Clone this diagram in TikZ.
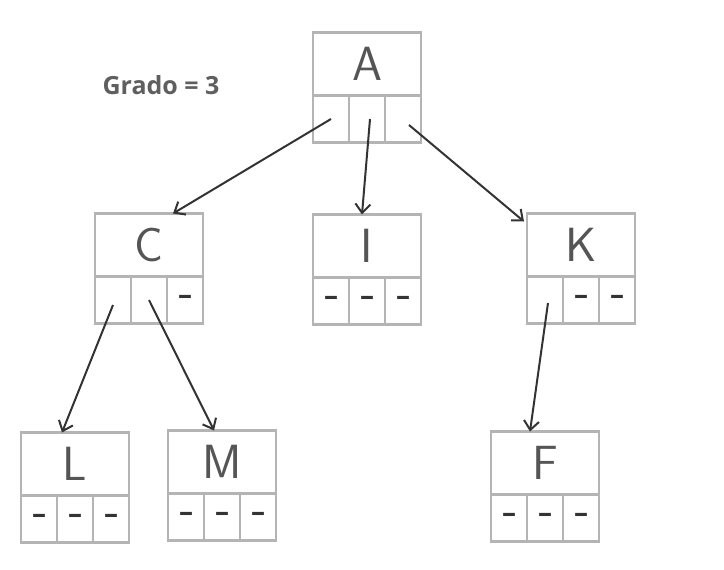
\documentclass[tikz,border=0pt]{standalone}
\usepackage{fontspec}
\newfontfamily\gradofont{Open Sans}
\usetikzlibrary{positioning,arrows.meta}
\definecolor{cajagris}{HTML}{B4B4B4}
\definecolor{letragris}{HTML}{555555}
\definecolor{flechagris}{HTML}{333333}
\definecolor{gradogris}{HTML}{5F5F5F}
\newcommand{\guion}{\textendash}
\tikzset{
  cajon/.style={draw=cajagris, line width=2.2pt, outer sep=0pt, inner sep=0pt,
    minimum width=108pt, minimum height=63pt, text=letragris,
    font=\sffamily\fontsize{48}{48}\selectfont},
  celda/.style={draw=cajagris, line width=2.2pt, outer sep=0pt, inner sep=0pt,
    minimum width=36pt, minimum height=47pt, text=flechagris,
    font=\gradofont\bfseries\fontsize{28}{28}\selectfont},
  flecha/.style={draw=flechagris, line width=2pt,
    -{Straight Barb[length=9pt,width=15pt]}},
}

\begin{document}
\begin{tikzpicture}[x=1pt,y=-1pt]
\useasboundingbox (0,0) rectangle (724,570);
\node[font=\gradofont\bfseries\fontsize{25}{25}\selectfont, text=gradogris] (grado) at (161,85) {Grado = 3};
% cajas: nombre/x/y/letra/celdas
\foreach \n/\x/\y/\l/\a/\b/\c in {A/367/64/A/\relax/\relax/\relax,
  C/149/245/C/\relax/\relax/\guion, I/367/246/I/\guion/\guion/\guion,
  K/581/245/K/\relax/\guion/\guion, L/75/464/L/\guion/\guion/\guion,
  M/222/462/M/\guion/\guion/\guion, F/545/463/F/\guion/\guion/\guion}
{
\node[cajon] (\n) at (\x,\y) {\l};
\node[celda, below=0pt of \n] (\n2) {\b};
\node[celda, left=0pt of \n2] (\n1) {\a};
\node[celda, right=0pt of \n2] (\n3) {\c};
}
\draw[flecha] (A1.center) -- ([xshift=24pt]C.north);
\draw[flecha] ([xshift=3pt]A2.center) -- ([xshift=-5pt]I.north);
\draw[flecha] ([xshift=6pt,yshift=-6pt]A3.center) -- ([xshift=-3pt,yshift=-8pt]K.north west);
\draw[flecha] ([yshift=-5pt]C1.center) -- ([xshift=-13pt]L.north);
\draw[flecha] (C2.center) -- ([xshift=-8pt]M.north);
\draw[flecha] ([xshift=3pt,yshift=-3pt]K1.center) -- ([xshift=-15pt]F.north);
\end{tikzpicture}
\end{document}
